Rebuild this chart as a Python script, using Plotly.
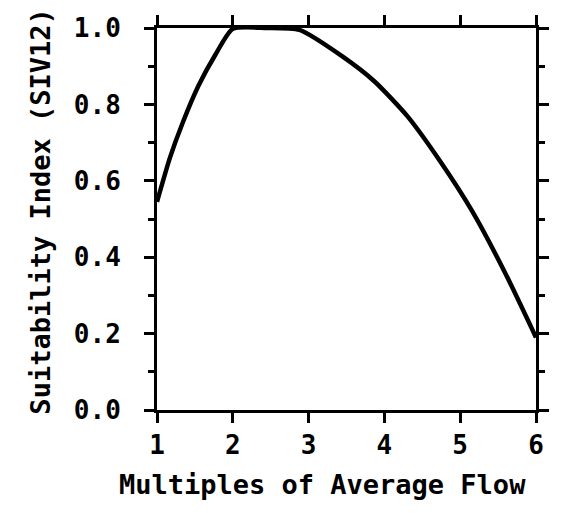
import plotly.graph_objects as go

# Suitability index curve against multiples of average flow
flow_multiple = [1.0, 1.17, 1.335, 1.55, 1.77, 2.0, 2.45, 2.88, 3.45, 3.87, 4.30, 4.74, 5.16, 5.59, 6.0]
suitability = [0.545, 0.66, 0.75, 0.85, 0.93, 0.998, 1.0, 0.995, 0.925, 0.86, 0.77, 0.65, 0.52, 0.36, 0.19]

x_ticks = [1, 2, 3, 4, 5, 6]
y_ticks = [0.0, 0.2, 0.4, 0.6, 0.8, 1.0]
y_tick_text = ["0.0", "0.2", "0.4", "0.6", "0.8", "1.0"]

x_title = "Multiples of Average Flow"
y_title = "Suitability Index (SIV12)"

mono = "DejaVu Sans Mono"
tick_font = dict(family=mono, size=26, color="black", weight="bold")
title_font = dict(family=mono, size=27, color="black", weight="bold")

fig = go.Figure(
    go.Scatter(
        x=flow_multiple,
        y=suitability,
        mode="lines",
        line=dict(color="black", width=4.5, shape="spline", smoothing=0.6),
        hoverinfo="skip",
        showlegend=False,
    )
)

fig.update_layout(
    width=561,
    height=513,
    margin=dict(l=157, r=16, t=28, b=103),
    paper_bgcolor="white",
    plot_bgcolor="white",
    font=dict(family=mono, color="black"),
    annotations=[
        dict(
            text=x_title, xref="paper", yref="paper", x=0.437, y=-0.194,
            xanchor="center", yanchor="middle", showarrow=False, font=title_font,
        ),
        dict(
            text=y_title, xref="paper", yref="paper", x=-0.308, y=0.52,
            xanchor="center", yanchor="middle", textangle=-90, showarrow=False,
            font=title_font,
        ),
    ],
)

axis_common = dict(
    ticks="outside",
    ticklen=10,
    tickwidth=2.5,
    tickcolor="black",
    showline=True,
    linewidth=3,
    linecolor="black",
    mirror="allticks",
    showgrid=False,
    zeroline=False,
    tickfont=tick_font,
)

fig.update_xaxes(
    range=[1, 6],
    tickvals=x_ticks,
    ticktext=[str(v) for v in x_ticks],
    ticklabelstandoff=0,
    **axis_common,
)

fig.update_yaxes(
    range=[0, 1],
    tickvals=y_ticks,
    ticktext=y_tick_text,
    minor=dict(dtick=0.1, ticks="outside", ticklen=6, tickwidth=2.5, tickcolor="black"),
    ticklabelstandoff=18,
    **axis_common,
)

fig.write_html("out.html")
